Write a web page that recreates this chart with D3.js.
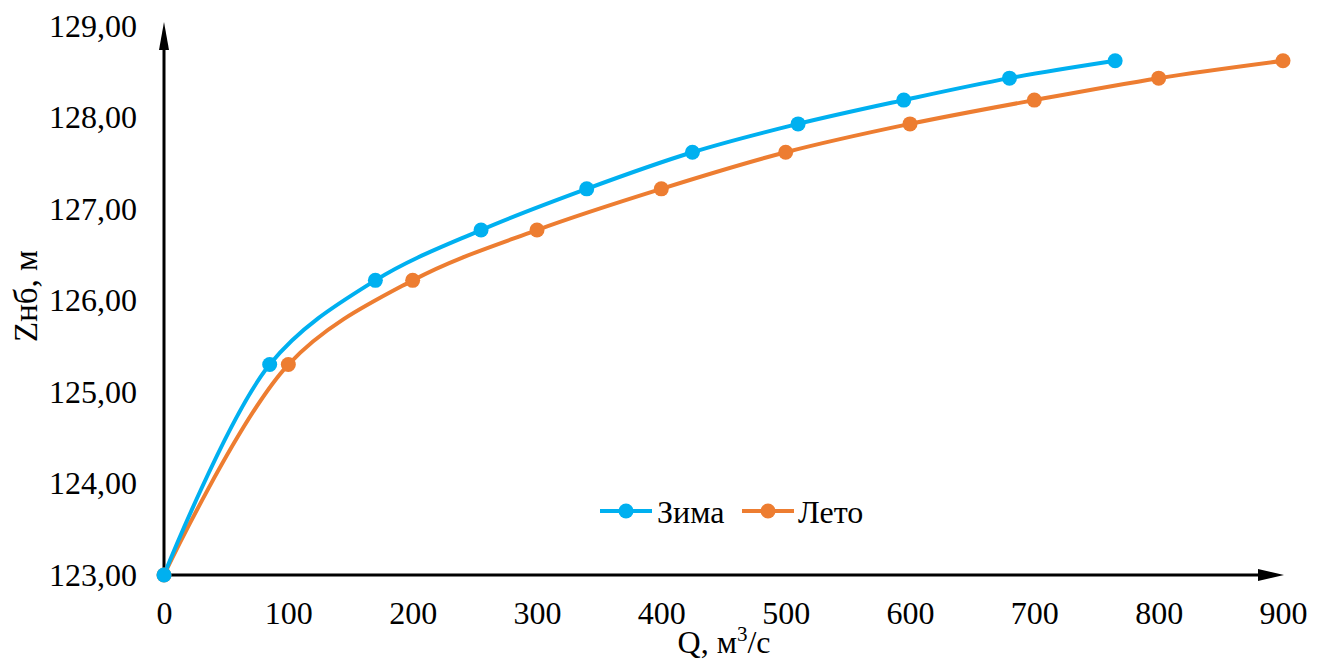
<!DOCTYPE html>
<html><head><meta charset="utf-8">
<script src="https://cdn.jsdelivr.net/npm/d3@7"></script>
<style>body{margin:0;background:#fff}</style>
</head><body><svg id="c" width="1326" height="662" font-family="Liberation Serif"></svg>
<script>
const qSummer = [0,100,200,300,400,500,600,700,800,900];
const qWinter = [0,85,170,255,340,425,510,595,680,765];
const zLevels = [123.00,125.30,126.22,126.77,127.22,127.62,127.93,128.19,128.43,128.62];
const xTicks = [0,100,200,300,400,500,600,700,800,900];
const yTicks = [123,124,125,126,127,128,129];
const seriesNames = ["Зима","Лето"];
const colors = ["#00B0F0","#ED7D31"];
const FONT = "Liberation Serif";

const svg = d3.select("#c");
const x = d3.scaleLinear().domain([0,900]).range([164,1283]);
const y = d3.scaleLinear().domain([123,129]).range([575,26]);
const fmt = v => v.toFixed(2).replace(".", ",");

svg.append("line").attr("x1",x(0)).attr("y1",y(123)).attr("x2",1270).attr("y2",y(123))
  .attr("stroke","#000").attr("stroke-width",3);
svg.append("path").attr("d",`M1258,${y(123)-6} L1284,${y(123)} L1258,${y(123)+6} z`).attr("fill","#000");
svg.append("line").attr("x1",x(0)).attr("y1",y(123)).attr("x2",x(0)).attr("y2",40)
  .attr("stroke","#000").attr("stroke-width",3);
svg.append("path").attr("d",`M${x(0)-5},50 L${x(0)},22 L${x(0)+5},50 z`).attr("fill","#000");

const xAxis = svg.append("g").attr("transform",`translate(0,${y(123)})`)
  .call(d3.axisBottom(x).tickValues(xTicks).tickSize(0).tickPadding(26).tickFormat(d3.format("d")));
xAxis.attr("font-family",FONT).attr("font-size",32);
xAxis.select(".domain").remove();
xAxis.selectAll("text").attr("fill","#000");

const yAxis = svg.append("g").attr("transform",`translate(${x(0)},0)`)
  .call(d3.axisLeft(y).tickValues(yTicks).tickSize(0).tickPadding(27).tickFormat(fmt));
yAxis.attr("font-family",FONT).attr("font-size",32);
yAxis.select(".domain").remove();
yAxis.selectAll("text").attr("fill","#000");

svg.append("text").attr("transform","translate(37,296) rotate(-90)").attr("text-anchor","middle")
  .attr("font-family",FONT).attr("font-size",33).text("Zнб, м");
const xl = svg.append("text").attr("x",724).attr("y",653).attr("text-anchor","middle")
  .attr("font-family",FONT).attr("font-size",32);
xl.append("tspan").text("Q, м");
xl.append("tspan").attr("font-size",21).attr("dy",-12).text("3");
xl.append("tspan").attr("dy",12).text("/с");

const line = d3.line().curve(d3.curveCatmullRom.alpha(0.5));
const data = [qWinter.map((q,i)=>[x(q),y(zLevels[i])]), qSummer.map((q,i)=>[x(q),y(zLevels[i])])];
[1,0].forEach(s=>{
  svg.append("path").attr("d",line(data[s])).attr("fill","none").attr("stroke",colors[s]).attr("stroke-width",4);
});
[1,0].forEach(s=>{
  svg.append("g").selectAll("circle").data(data[s]).join("circle")
    .attr("cx",d=>d[0]).attr("cy",d=>d[1]).attr("r",7.5).attr("fill",colors[s]);
});

const lg = [[600,657],[742,798]];
seriesNames.forEach((n,i)=>{
  const g = svg.append("g");
  g.append("line").attr("x1",lg[i][0]).attr("x2",lg[i][0]+52).attr("y1",511).attr("y2",511)
    .attr("stroke",colors[i]).attr("stroke-width",4);
  g.append("circle").attr("cx",lg[i][0]+26).attr("cy",511).attr("r",7.5).attr("fill",colors[i]);
  g.append("text").attr("x",lg[i][1]).attr("y",523).attr("font-family",FONT).attr("font-size",32).text(n);
});
</script></body></html>
